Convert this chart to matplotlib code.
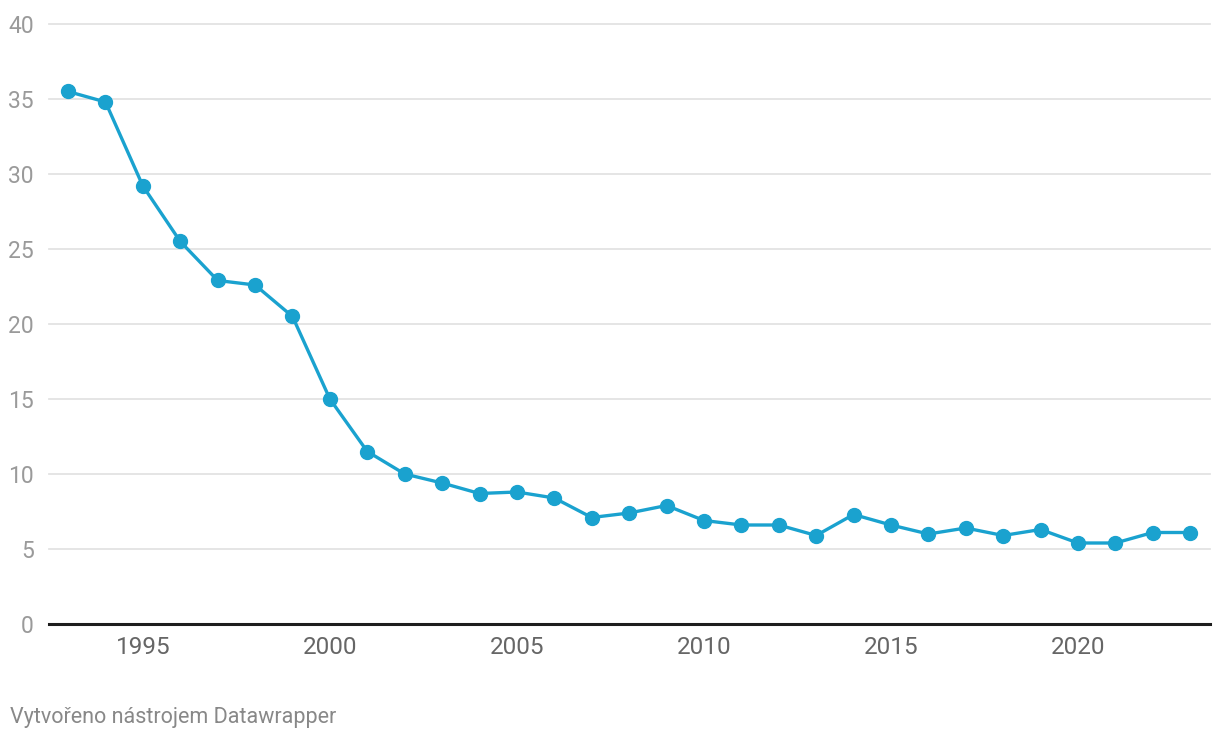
import matplotlib
matplotlib.use("Agg")
import matplotlib.pyplot as plt

years = list(range(1993, 2024))
values = [35.5, 34.8, 29.2, 25.5, 22.9, 22.6, 20.5, 15.0, 11.5, 10.0, 9.4, 8.7,
          8.8, 8.4, 7.1, 7.4, 7.9, 6.9, 6.6, 6.6, 5.9, 7.3, 6.6, 6.0, 6.4, 5.9,
          6.3, 5.4, 5.4, 6.1, 6.1]
y_ticks = [0, 5, 10, 15, 20, 25, 30, 35, 40]
x_ticks = [1995, 2000, 2005, 2010, 2015, 2020]
footer = "Vytvořeno nástrojem Datawrapper"

plt.rcParams['font.family'] = ['Roboto', 'DejaVu Sans']

fig = plt.figure(figsize=(12.2, 7.4), dpi=100)
ax = fig.add_axes([49/1220, 116/740, (1210-49)/1220, 600/740])

for t in y_ticks[1:]:
    ax.axhline(t, color='#e3e3e3', lw=1.3, zorder=1, clip_on=False)
ax.axhline(0, color='#1d1d1d', lw=2.2, zorder=2, clip_on=False)

ax.plot(years, values, color='#1aa2cf', lw=2.4, marker='o', markersize=10,
        zorder=3, clip_on=False)

ax.set_xlim(1992.49, 2023.53)
ax.set_ylim(0, 40)
ax.set_yticks(y_ticks)
ax.set_xticks(x_ticks)
ax.set_xticklabels([str(x) for x in x_ticks])
for s in ax.spines.values():
    s.set_visible(False)
ax.tick_params(axis='y', length=0, pad=11, labelsize=16.5, labelcolor='#9a9a9a')
ax.tick_params(axis='x', length=0, pad=9, labelsize=17.5, labelcolor='#666666')

fig.text(10/1220, 1 - 717/740, footer, ha='left', va='center', fontsize=15.5, color='#888888')

fig.savefig('out.png', dpi=100)
